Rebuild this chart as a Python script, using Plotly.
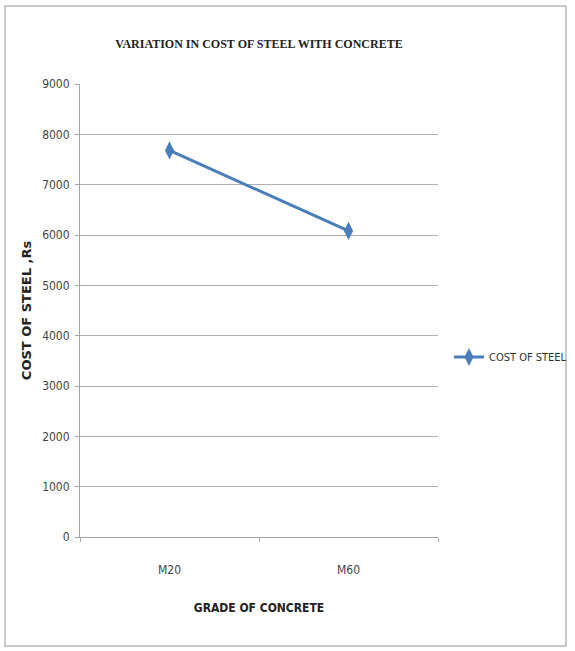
import plotly.graph_objects as go

grades = ["M20", "M60"]
steel_cost = [7680, 6080]
y_ticks = [0, 1000, 2000, 3000, 4000, 5000, 6000, 7000, 8000, 9000]

narrow = "Liberation Sans Narrow, DejaVu Sans Condensed, Arial Narrow, sans-serif"

fig = go.Figure()
fig.add_trace(go.Scatter(
    x=grades,
    y=steel_cost,
    mode="lines+markers",
    name="COST OF STEEL",
    line=dict(color="#4a7ebb", width=3),
    marker=dict(symbol="diamond-tall", size=13, color="#4a7ebb"),
))

L, R, T, B = 80, 137, 84, 114
W, H = 575, 651
pw, ph = W - L - R, H - T - B

fig.update_layout(
    width=W,
    height=H,
    margin=dict(l=L, r=R, t=T, b=B, autoexpand=False),
    paper_bgcolor="white",
    plot_bgcolor="white",
    title=dict(
        text="<b>VARIATION IN COST OF STEEL WITH CONCRETE</b>",
        x=(L + pw / 2) / W,
        xanchor="center",
        y=1 - 44 / H,
        yanchor="middle",
        font=dict(family="Liberation Serif, Times New Roman, serif", size=12, color="#222"),
    ),
    showlegend=True,
    legend=dict(
        x=(449 - L) / pw, xanchor="left",
        y=(H - B - 357) / ph, yanchor="middle",
        font=dict(family=narrow, size=11, color="#333"),
        bgcolor="rgba(0,0,0,0)",
        itemwidth=30,
    ),
    shapes=[dict(
        type="rect", xref="paper", yref="paper",
        x0=(5 - L) / pw, x1=(566 - L) / pw,
        y0=(H - B - 646) / ph, y1=(H - B - 6) / ph,
        line=dict(color="#b8b8b8", width=1.5),
        fillcolor="rgba(0,0,0,0)",
        layer="below",
    )],
)

fig.update_xaxes(
    type="category",
    range=[-0.5, 1.5],
    showline=True, linecolor="#a6a6a6", linewidth=1,
    showgrid=False,
    ticks="outside", tickson="boundaries", ticklen=4, tickcolor="#a6a6a6",
    ticklabelstandoff=22,
    tickfont=dict(family=narrow, size=12, color="#444"),
    title=dict(
        text="<b>GRADE OF CONCRETE</b>",
        font=dict(family="DejaVu Sans Condensed, sans-serif", size=12, color="#222"),
        standoff=27,
    ),
)
fig.update_yaxes(
    range=[0, 9000],
    tickvals=y_ticks,
    showline=True, linecolor="#a6a6a6", linewidth=1,
    showgrid=True, gridcolor="#b0b0b0", gridwidth=1,
    zeroline=False,
    ticks="outside", ticklen=4, tickcolor="#a6a6a6",
    ticklabelstandoff=3,
    tickfont=dict(family=narrow, size=12, color="#444"),
    title=dict(
        text="<b>COST OF STEEL ,Rs</b>",
        font=dict(family="DejaVu Sans, Verdana, sans-serif", size=13, color="#222"),
        standoff=7,
    ),
)

# drop the page's default body margin so the figure fills the window exactly
fig.write_html(
    "out.html",
    config={"displayModeBar": False},
    post_script="document.body.style.margin='0';document.body.style.overflow='hidden';",
)
